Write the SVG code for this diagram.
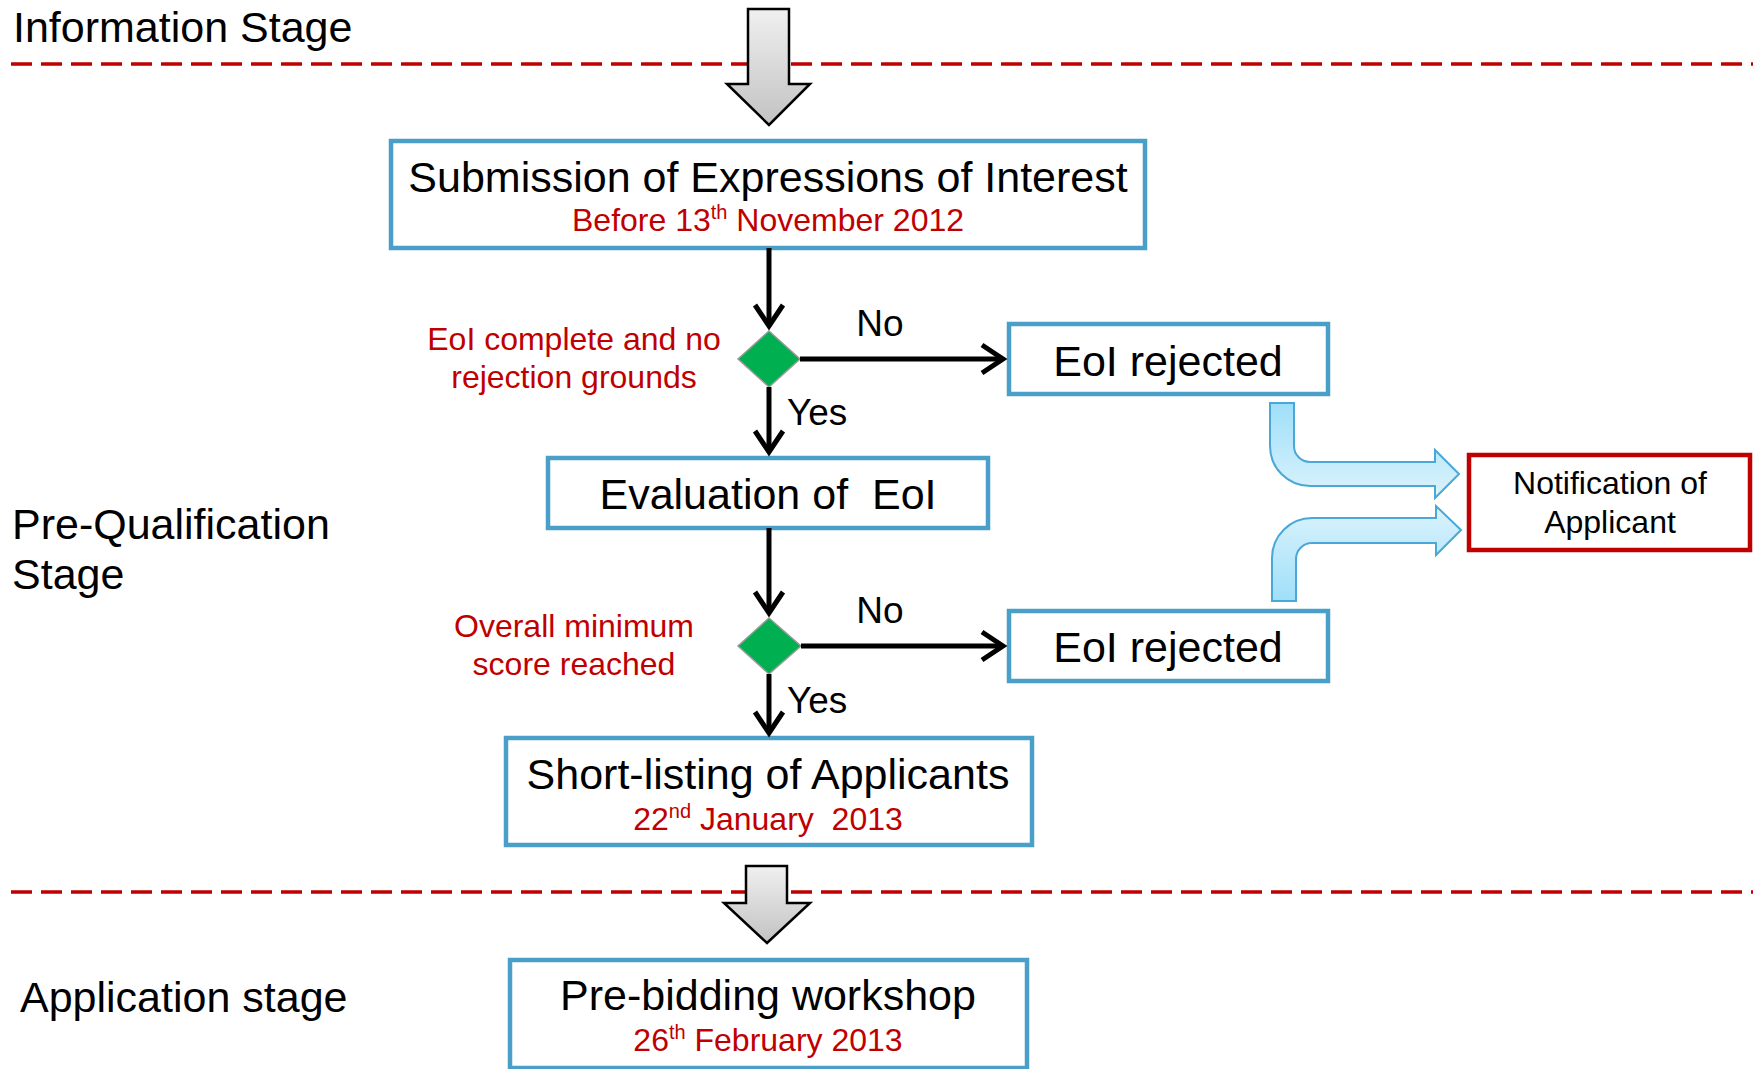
<svg xmlns="http://www.w3.org/2000/svg" width="1753" height="1069" viewBox="0 0 1753 1069">
  <style>
    .box { fill: #ffffff; stroke: #4a9fc9; stroke-width: 4.5; }
    .title { font-family: "Liberation Sans", Arial, sans-serif; font-size: 43px; fill: #000000; text-anchor: middle; white-space: pre; }
    .date { font-family: "Liberation Sans", Arial, sans-serif; font-size: 32px; fill: #c00000; text-anchor: middle; white-space: pre; }
    .sup { font-size: 20px; }
    .stage { font-family: "Liberation Sans", Arial, sans-serif; font-size: 43px; fill: #000000; }
    .cond { font-family: "Liberation Sans", Arial, sans-serif; font-size: 32px; fill: #c00000; text-anchor: middle; }
    .note { font-family: "Liberation Sans", Arial, sans-serif; font-size: 32px; fill: #000000; text-anchor: middle; }
    .lbl { font-family: "Liberation Sans", Arial, sans-serif; font-size: 37px; fill: #000000; }
    .divider { stroke: #c00000; stroke-width: 3.5; stroke-dasharray: 21 9; fill: none; }
    .flow { stroke: #000000; stroke-width: 5; fill: none; marker-end: url(#chev); }
    .diamond { fill: #00b050; stroke: #9a9a9a; stroke-width: 1.5; }
    .bigarrow { fill: url(#grayGrad); stroke: #000000; stroke-width: 2.5; stroke-linejoin: miter; }
    .notify { fill: #ffffff; stroke: #c00000; stroke-width: 4.5; }
    .bent { stroke: #4aa8d8; stroke-width: 2; }
  </style>
  <defs>
    <linearGradient id="grayGrad" x1="0" y1="0" x2="0" y2="1">
      <stop offset="0" stop-color="#f0f0f0"/>
      <stop offset="1" stop-color="#c2c2c2"/>
    </linearGradient>
    <linearGradient id="blueDown" x1="0" y1="0" x2="0" y2="1">
      <stop offset="0" stop-color="#9fdff9"/>
      <stop offset="1" stop-color="#dcf3fc"/>
    </linearGradient>
    <linearGradient id="blueUp" x1="0" y1="1" x2="0" y2="0">
      <stop offset="0" stop-color="#9fdff9"/>
      <stop offset="1" stop-color="#dcf3fc"/>
    </linearGradient>
    <marker id="chev" markerUnits="userSpaceOnUse" viewBox="0 0 28 30" markerWidth="28" markerHeight="30" refX="22" refY="15" orient="auto" overflow="visible">
      <path d="M1,1 L22,15 L1,29" fill="none" stroke="#000000" stroke-width="5"/>
    </marker>
  </defs>

  <rect width="1753" height="1069" fill="#ffffff"/>

  <!-- stage dividers -->
  <g id="dividers">
    <line class="divider" x1="11" y1="64" x2="1753" y2="64"/>
    <line class="divider" x1="11" y1="892" x2="1753" y2="892"/>
  </g>

  <!-- stage labels -->
  <g id="stage-information">
    <text class="stage" x="13" y="42">Information Stage</text>
  </g>
  <g id="stage-prequalification">
    <text class="stage" x="12" y="539">Pre-Qualification</text>
    <text class="stage" x="12" y="589">Stage</text>
  </g>
  <g id="stage-application">
    <text class="stage" x="20" y="1012">Application stage</text>
  </g>

  <!-- stage transition arrows -->
  <g id="stage-arrow-top">
    <path class="bigarrow" d="M748,9 L789,9 L789,84 L810,84 L769,125 L727,84 L748,84 Z"/>
  </g>
  <g id="stage-arrow-bottom">
    <path class="bigarrow" d="M746,866 L787,866 L787,903 L810,903 L767,943 L724,903 L746,903 Z"/>
  </g>

  <!-- process nodes -->
  <g id="node-submission">
    <rect class="box" x="391" y="141" width="754" height="107"/>
    <text class="title" x="768" y="192">Submission of Expressions of Interest</text>
    <text class="date" x="768" y="231">Before 13<tspan class="sup" dy="-12">th</tspan><tspan dy="12"> November 2012</tspan></text>
  </g>

  <g id="decision-complete">
    <polygon class="diamond" points="769,331 800,359 769,387 738,359"/>
    <text class="cond" x="574" y="350">EoI complete and no</text>
    <text class="cond" x="574" y="388">rejection grounds</text>
  </g>

  <g id="node-rejected-1">
    <rect class="box" x="1009" y="324" width="319" height="70"/>
    <text class="title" x="1168" y="376">EoI rejected</text>
  </g>

  <g id="node-evaluation">
    <rect class="box" x="548" y="458" width="440" height="70"/>
    <text class="title" x="768" y="509">Evaluation of  EoI</text>
  </g>

  <g id="decision-score">
    <polygon class="diamond" points="769,618 801,646 769,674 738,646"/>
    <text class="cond" x="574" y="637">Overall minimum</text>
    <text class="cond" x="574" y="675">score reached</text>
  </g>

  <g id="node-rejected-2">
    <rect class="box" x="1009" y="611" width="319" height="70"/>
    <text class="title" x="1168" y="662">EoI rejected</text>
  </g>

  <g id="node-shortlisting">
    <rect class="box" x="506" y="738" width="526" height="107"/>
    <text class="title" x="768" y="789">Short-listing of Applicants</text>
    <text class="date" x="768" y="830">22<tspan class="sup" dy="-12">nd</tspan><tspan dy="12"> January  2013</tspan></text>
  </g>

  <g id="node-workshop">
    <rect class="box" x="510" y="960" width="517" height="108"/>
    <text class="title" x="768" y="1010">Pre-bidding workshop</text>
    <text class="date" x="768" y="1051">26<tspan class="sup" dy="-12">th</tspan><tspan dy="12"> February 2013</tspan></text>
  </g>

  <g id="node-notification">
    <rect class="notify" x="1469" y="455" width="281" height="95"/>
    <text class="note" x="1610" y="494">Notification of</text>
    <text class="note" x="1610" y="533">Applicant</text>
  </g>

  <!-- connectors -->
  <g id="connectors">
    <line class="flow" x1="769" y1="248" x2="769" y2="326"/>
    <line class="flow" x1="800" y1="359" x2="1003" y2="359"/>
    <line class="flow" x1="769" y1="387" x2="769" y2="452"/>
    <line class="flow" x1="769" y1="528" x2="769" y2="613"/>
    <line class="flow" x1="801" y1="646" x2="1003" y2="646"/>
    <line class="flow" x1="769" y1="674" x2="769" y2="733"/>

    <text class="lbl" x="880" y="336" text-anchor="middle">No</text>
    <text class="lbl" x="787" y="425">Yes</text>
    <text class="lbl" x="880" y="623" text-anchor="middle">No</text>
    <text class="lbl" x="787" y="713">Yes</text>

    <!-- bent notification arrows -->
    <path class="bent" fill="url(#blueDown)" d="M1270,403 L1294,403 L1294,446 A16,16 0 0 0 1310,462 L1435,462 L1435,450 L1459,474 L1435,498 L1435,486 L1310,486 A40,40 0 0 1 1270,446 Z"/>
    <path class="bent" fill="url(#blueUp)" d="M1272,601 L1296,601 L1296,559 A16,16 0 0 1 1312,543 L1436,543 L1436,555 L1461,530 L1436,506 L1436,518 L1312,518 A40,40 0 0 0 1272,558 Z"/>
  </g>
</svg>
